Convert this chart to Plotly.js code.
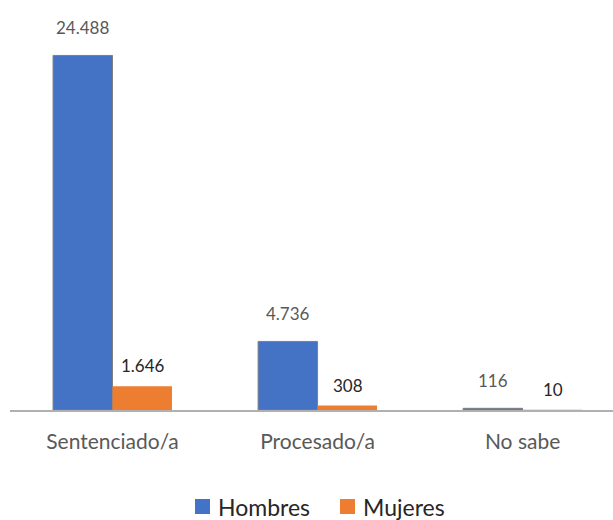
<!DOCTYPE html>
<html>
<head>
<meta charset="utf-8">
<script src="https://cdn.plot.ly/plotly-3.0.1.min.js"></script>
<style>
  html, body { margin: 0; padding: 0; background: #fff; }
  #chart { width: 613px; height: 520px; }
</style>
</head>
<body>
<div id="chart"></div>
<script>
const categories = ["Sentenciado/a", "Procesado/a", "No sabe"];
const hombres = [24488, 4736, 116];
const mujeres = [1646, 308, 10];
const seriesNames = ["Hombres", "Mujeres"];

function fmt(v) {
  return v.toString().replace(/\B(?=(\d{3})+(?!\d))/g, ".");
}

const FONT = "Lato, 'Open Sans', sans-serif";
const blue = "#4472C4";
const orange = "#ED7D31";

const traces = [
  {
    type: "bar", name: seriesNames[0], x: categories, y: hombres,
    marker: { color: blue, line: { color: "#7f7f7f", width: 1 } },
    hoverinfo: "skip", showlegend: false
  },
  {
    type: "bar", name: seriesNames[1], x: categories, y: mujeres,
    marker: { color: orange, line: { width: 0 } },
    hoverinfo: "skip", showlegend: false
  }
];

const annotations = [];
categories.forEach((c, i) => {
  annotations.push({
    x: c, y: hombres[i], xref: "x", yref: "y", xshift: -30, yshift: 15,
    yanchor: "bottom", xanchor: "center", showarrow: false,
    text: fmt(hombres[i]), font: { family: FONT, size: 17, color: "#595959" }
  });
  annotations.push({
    x: c, y: mujeres[i], xref: "x", yref: "y", xshift: 30, yshift: 8,
    yanchor: "bottom", xanchor: "center", showarrow: false,
    text: fmt(mujeres[i]), font: { family: FONT, size: 17, color: "#262626" }
  });
});

// Custom legend (pixel layout converted to paper coordinates)
const W = 613, H = 520, ML = 10, MR = 0, MT = 20, MB = 110;
const PW = W - ML - MR, PH = H - MT - MB;
const px = v => (v - ML) / PW;
const py = v => (H - MB - v) / PH;
const legendItems = [
  { name: seriesNames[0], color: blue, sx: 195 },
  { name: seriesNames[1], color: orange, sx: 340 }
];
const shapes = [];
legendItems.forEach(it => {
  shapes.push({
    type: "rect", xref: "paper", yref: "paper",
    x0: px(it.sx), x1: px(it.sx + 15), y0: py(514), y1: py(499),
    fillcolor: it.color, line: { width: 0 }
  });
  annotations.push({
    xref: "paper", yref: "paper", x: px(it.sx + 21), y: py(507),
    xanchor: "left", yanchor: "middle", showarrow: false,
    text: it.name, font: { family: FONT, size: 23, color: "#262626" }
  });
});

const ymax = Math.max(...hombres) * 1.1;

const layout = {
  width: W, height: H,
  margin: { l: ML, r: MR, t: MT, b: MB },
  paper_bgcolor: "#ffffff", plot_bgcolor: "#ffffff",
  barmode: "group", bargap: 0.42, bargroupgap: 0,
  font: { family: FONT, color: "#595959" },
  xaxis: {
    type: "category", range: [-0.5, 2.441],
    showline: true, linecolor: "#b0b0b0", linewidth: 2,
    ticks: "", showgrid: false, zeroline: false,
    tickfont: { family: FONT, size: 21, color: "#595959" },
    ticklabelstandoff: 12
  },
  yaxis: {
    range: [0, ymax], visible: false, showgrid: false, zeroline: false
  },
  showlegend: false,
  shapes: shapes,
  annotations: annotations
};

Plotly.newPlot("chart", traces, layout, { displayModeBar: false, staticPlot: true });
</script>
</body>
</html>
